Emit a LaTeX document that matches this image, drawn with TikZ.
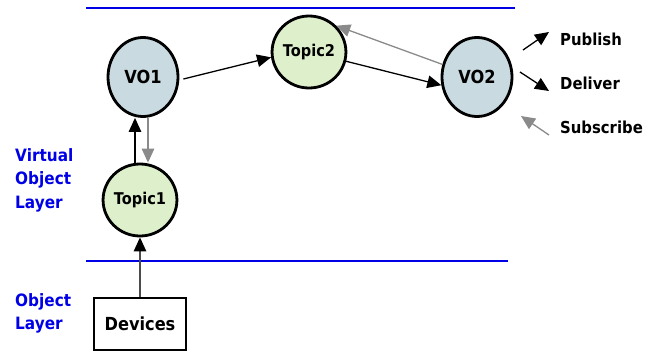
\documentclass[tikz,border=0pt]{standalone}
\usepackage{fontspec}
\setmainfont{DejaVu Sans}[FakeStretch=0.9]
\usetikzlibrary{arrows.meta,shapes.geometric}
\definecolor{voFill}{HTML}{C9DBE1}
\definecolor{topicFill}{HTML}{DDEFCB}
\definecolor{layerBlue}{HTML}{0000E6}
\definecolor{subGray}{HTML}{8A8A8A}
\tikzset{
  vobj/.style={ellipse, draw=black, line width=2.8pt, fill=voFill,
    minimum width=70pt, minimum height=79pt, inner sep=0pt,
    font=\fontsize{18}{20}\selectfont\bfseries},
  topic/.style={ellipse, draw=black, line width=2.8pt, fill=topicFill,
    minimum width=65pt, minimum height=72pt, inner sep=0pt,
    font=\fontsize{16.2}{18}\selectfont\bfseries},
  devbox/.style={rectangle, draw=black, line width=2.2pt,
    minimum width=92pt, minimum height=52pt, inner sep=0pt,
    font=\fontsize{18}{20}\selectfont\bfseries},
  layerline/.style={layerBlue, line width=2.6pt},
  layerlabel/.style={layerBlue, anchor=north west, align=left, inner sep=0pt,
    font=\fontsize{17}{23.5}\selectfont\bfseries},
  legendtext/.style={anchor=base west, inner sep=0pt,
    font=\fontsize{16.5}{18}\selectfont\bfseries},
  pub/.style={line width=1.3pt, -{Triangle[length=14pt,width=12.5pt]}},
  sub/.style={subGray, line width=1.3pt, -{Triangle[length=14pt,width=12.5pt]}}
}
\begin{document}
\begin{tikzpicture}[x=1pt,y=-1pt]
  \useasboundingbox (0,0) rectangle (657,354);

  % layer boundaries
  \coordinate (topL) at (86,8);   \coordinate (topR) at (515,8);
  \coordinate (botL) at (86,261); \coordinate (botR) at (508,261);
  \draw[layerline] (topL) -- (topR);
  \draw[layerline] (botL) -- (botR);

  % layer names
  \node[layerlabel] (vlayer) at (15,148) {Virtual\\Object\\Layer};
  \node[layerlabel] (olayer) at (15,293) {Object\\Layer};

  % virtual objects and topics
  \node[vobj]  (vo1)    at (143,77) {VO1};
  \node[topic] (topic2) at (309,52) {Topic2};
  \node[vobj]  (vo2)    at (477,77) {VO2};
  \node[topic] (topic1) at (140,200) {Topic1};
  \node[devbox] (dev)   at (140,324) {Devices};

  % data flow
  \draw[black!70, line width=1.3pt, -{Triangle[length=14pt,width=12.5pt,color=black]}]
    (dev.north) -- (topic1.south);
  \draw[pub] ([xshift=-5pt]topic1.north) -- ([xshift=-5pt]topic1.north |- vo1.south);
  \draw[sub] ([xshift=5pt]vo1.south) -- ([xshift=5pt]vo1.south |- topic1.north);
  \draw[pub] ([shift={(4pt,-2pt)}]vo1.east) -- (topic2.188);
  \draw[pub] (topic2.-14) -- (vo2.193);
  \draw[sub] (vo2.160) -- (topic2.44);

  % legend
  \coordinate (pA) at (523,50);  \coordinate (pB) at (549,32);
  \coordinate (dA) at (520,72);  \coordinate (dB) at (549,91);
  \coordinate (sA) at (549,135); \coordinate (sB) at (521,116);
  \draw[pub] (pA) -- (pB);
  \draw[pub] (dA) -- (dB);
  \draw[sub] (sA) -- (sB);
  \node[legendtext] (lpub) at (560,45)  {Publish};
  \node[legendtext] (ldel) at (560,89)  {Deliver};
  \node[legendtext] (lsub) at (560,133) {Subscribe};
\end{tikzpicture}
\end{document}
